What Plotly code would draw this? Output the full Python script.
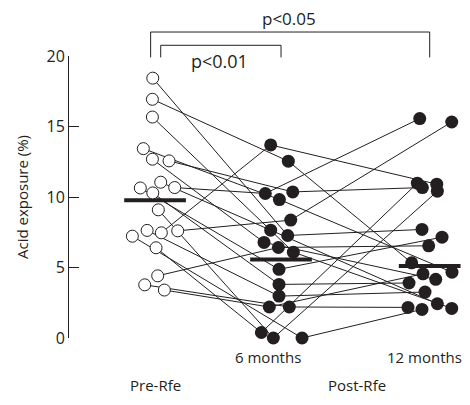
import plotly.graph_objects as go

# ---- data ----
groups = ["Pre-Rfe", "6 months", "12 months"]
group_label_post = "Post-Rfe"
group_pos = [0.0, 1.0, 2.18]

pre_vals = [18.43, 16.93, 15.67, 13.43, 12.68, 12.56, 11.05, 10.64, 10.67, 10.29,
            9.09, 7.63, 7.22, 7.46, 7.60, 6.40, 4.41, 3.77, 3.40]
m6_vals = [7.27, 12.54, 6.09, 9.82, 6.78, 10.36, 7.65, 4.87, 10.25, 3.80,
           0.0, 2.97, 0.0, 13.69, 8.36, 0.39, 6.42, 2.20, 2.20]
m12_vals = [7.70, 5.33, 2.10, 4.67, 4.16, 10.67, 2.43, 7.15, 15.56, 3.90,
            10.41, 3.26, 2.03, 10.91, 15.32, 10.98, 6.54, 2.17, 4.55]

pre_jitter = [-0.018, -0.021, -0.021, -0.093, -0.021, 0.111, 0.045, -0.117, 0.156, -0.018,
              0.026, -0.063, -0.180, 0.050, 0.180, 0.008, 0.021, -0.082, 0.074]
m6_jitter = [0.053, 0.058, 0.098, -0.013, -0.135, 0.093, -0.082, -0.016, -0.125, -0.016,
             -0.061, -0.016, 0.167, -0.082, 0.077, -0.156, -0.021, 0.066, -0.093]
m12_jitter = [-0.061, -0.143, 0.175, 0.177, 0.048, -0.058, 0.061, 0.098, -0.079, -0.164,
              0.061, -0.037, -0.061, 0.056, 0.175, -0.098, -0.008, -0.172, -0.053]

group_means = [9.77, 5.57, 5.10]
y_ticks = [0, 5, 10, 15, 20]
sig_labels = ["p<0.01", "p<0.05"]

FONT = "Open Sans, Lato, DejaVu Sans, sans-serif"
INK = "#231f20"

fig = go.Figure()

pre_x = [group_pos[0] + j for j in pre_jitter]
m6_x = [group_pos[1] + j for j in m6_jitter]
m12_x = [group_pos[2] + j for j in m12_jitter]

# connecting lines per subject
for i in range(len(pre_vals)):
    fig.add_trace(go.Scatter(
        x=[pre_x[i], m6_x[i], m12_x[i]],
        y=[pre_vals[i], m6_vals[i], m12_vals[i]],
        mode="lines", line=dict(color=INK, width=1),
        hoverinfo="skip", showlegend=False))

# mean bars
half = 0.245
for gp, mv in zip(group_pos, group_means):
    fig.add_trace(go.Scatter(x=[gp - half, gp + half], y=[mv, mv], mode="lines",
                             line=dict(color=INK, width=4), showlegend=False,
                             hoverinfo="skip"))

# markers
fig.add_trace(go.Scatter(x=pre_x, y=pre_vals, mode="markers",
                         marker=dict(size=12, color="white", line=dict(color=INK, width=1)),
                         showlegend=False, cliponaxis=False))
fig.add_trace(go.Scatter(x=m6_x + m12_x, y=m6_vals + m12_vals, mode="markers",
                         marker=dict(size=13, color=INK, line=dict(color=INK, width=0)),
                         showlegend=False, cliponaxis=False))

# significance brackets
def bracket(x0, x1, ytop, ybot):
    for xa, ya, xb, yb in [(x0, ybot, x0, ytop), (x0, ytop, x1, ytop), (x1, ytop, x1, ybot)]:
        fig.add_shape(type="line", xref="x", yref="paper", x0=xa, y0=ya, x1=xb, y1=yb,
                      line=dict(color=INK, width=1))

bracket(group_pos[0] - 0.035, group_pos[2], 1.085, 0.995)
bracket(group_pos[0] + 0.045, group_pos[1], 1.038, 0.995)

fig.add_annotation(x=0.515, y=0.981, xref="x", yref="paper",
                   text=sig_labels[0], showarrow=False, yanchor="middle",
                   font=dict(family=FONT, size=18, color=INK))
fig.add_annotation(x=1.06, y=1.133, xref="x", yref="paper",
                   text=sig_labels[1], showarrow=False, yanchor="middle",
                   font=dict(family=FONT, size=17, color=INK))

# x labels
lab_font = dict(family=FONT, size=15, color=INK)
fig.add_annotation(x=0.9, y=-0.067, xref="x", yref="paper", text=groups[1],
                   showarrow=False, yanchor="middle", font=lab_font)
fig.add_annotation(x=group_pos[2] + 0.27, y=-0.067, xref="x", yref="paper", text=groups[2],
                   showarrow=False, yanchor="middle", xanchor="right", font=lab_font)
fig.add_annotation(x=group_pos[0], y=-0.166, xref="x", yref="paper", text=groups[0],
                   showarrow=False, yanchor="middle", font=lab_font)
fig.add_annotation(x=1.6, y=-0.166, xref="x", yref="paper", text=group_label_post,
                   showarrow=False, yanchor="middle", font=lab_font)

# the page adds an 8px body margin, so the figure is 8px smaller with shifted margins
fig.update_layout(
    width=462, height=397,
    margin=dict(l=61, r=0, t=48, b=67),
    plot_bgcolor="white", paper_bgcolor="white",
    font=dict(family=FONT, color=INK),
    xaxis=dict(range=[-0.683, 2.5], visible=False),
    yaxis=dict(range=[0, 20], tickvals=y_ticks, ticks="inside", ticklen=10,
               tickcolor=INK, showline=True, linecolor=INK, linewidth=1,
               showgrid=False, zeroline=False,
               tickfont=dict(size=16, family=FONT, color=INK),
               title=dict(text="Acid exposure (%)", font=dict(size=15, family=FONT, color=INK),
                          standoff=14)),
)

fig.write_html("out.html")
